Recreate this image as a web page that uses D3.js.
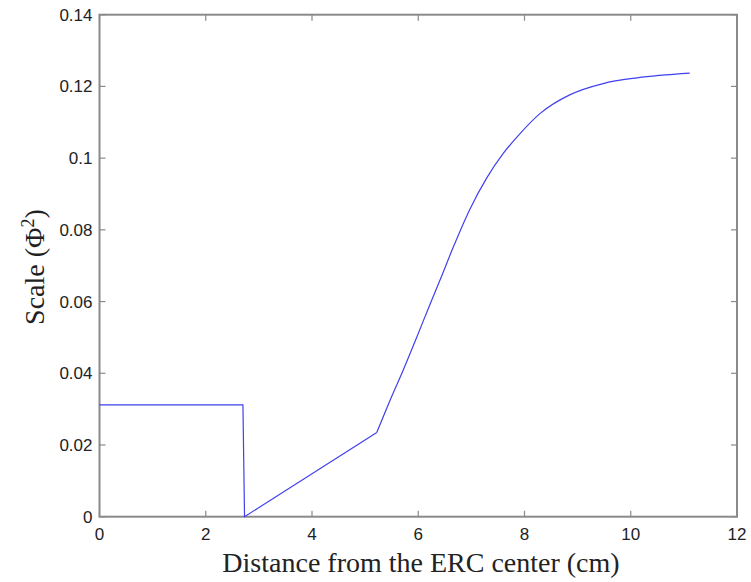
<!DOCTYPE html>
<html><head><meta charset="utf-8">
<script src="https://cdn.jsdelivr.net/npm/d3@7"></script>
<style>body{margin:0;background:#fff}</style>
</head><body>
<svg id="c" width="751" height="582"></svg>
<script>
// piecewise-linear part (flat, drop, ramp)
const linX = [0, 2.70, 2.73, 5.22];
const linY = [0.0312, 0.0312, 0.0, 0.0235];
// smooth rising part
const curX = [5.22, 5.47, 5.72, 5.97, 6.22, 6.41, 6.66, 6.97, 7.29, 7.60, 7.92, 8.29, 8.86, 9.48, 10.12, 11.11];
const curY = [0.0235, 0.0325, 0.0410, 0.0500, 0.0592, 0.0660, 0.0752, 0.0857, 0.0945, 0.1013, 0.1069, 0.1124, 0.1177, 0.1208, 0.1224, 0.1237];
const xTicks = [0, 2, 4, 6, 8, 10, 12];
const yTicks = [0, 0.02, 0.04, 0.06, 0.08, 0.1, 0.12, 0.14];
const xLabel = "Distance from the ERC center (cm)";

const svg = d3.select("#c");
const L = 99.5, R = 737, T = 14.7, B = 516.7;
const x = d3.scaleLinear().domain([0, 12]).range([L, R]);
const y = d3.scaleLinear().domain([0, 0.14]).range([B, T]);
const axisCol = "#8a8a8a", tk = 6;

const g = svg.append("g");
g.append("rect").attr("x", L).attr("y", T).attr("width", R - L).attr("height", B - T)
  .attr("fill", "none").attr("stroke", axisCol).attr("stroke-width", 2);

xTicks.forEach(v => {
  g.append("line").attr("x1", x(v)).attr("x2", x(v)).attr("y1", B).attr("y2", B - tk).attr("stroke", axisCol).attr("stroke-width", 1.2);
  g.append("line").attr("x1", x(v)).attr("x2", x(v)).attr("y1", T).attr("y2", T + tk).attr("stroke", axisCol).attr("stroke-width", 1.2);
  g.append("text").attr("x", x(v)).attr("y", B + 23).attr("text-anchor", "middle")
    .attr("font-family", "Liberation Sans, Arial, sans-serif").attr("font-size", 17).attr("fill", "#222").text(v);
});
yTicks.forEach(v => {
  g.append("line").attr("x1", L).attr("x2", L + tk).attr("y1", y(v)).attr("y2", y(v)).attr("stroke", axisCol).attr("stroke-width", 1.2);
  g.append("line").attr("x1", R).attr("x2", R - tk).attr("y1", y(v)).attr("y2", y(v)).attr("stroke", axisCol).attr("stroke-width", 1.2);
  g.append("text").attr("x", L - 7).attr("y", y(v) + 6).attr("text-anchor", "end")
    .attr("font-family", "Liberation Sans, Arial, sans-serif").attr("font-size", 17).attr("fill", "#222").text(v === 0 ? "0" : String(v));
});

const lin = linX.map((d, i) => [d, linY[i]]);
const cur = curX.map((d, i) => [d, curY[i]]);
const line = d3.line().x(d => x(d[0])).y(d => y(d[1]));
g.append("path").attr("d", line(lin)).attr("fill", "none").attr("stroke", "#4040ee").attr("stroke-width", 1.2);
g.append("path").attr("d", line.curve(d3.curveMonotoneX)(cur)).attr("fill", "none").attr("stroke", "#4040ee").attr("stroke-width", 1.2);

svg.append("text").attr("x", 421).attr("y", 572).attr("text-anchor", "middle")
  .attr("font-family", "Liberation Serif, Times New Roman, serif").attr("font-size", 28).attr("fill", "#222").text(xLabel);
const yl = svg.append("text").attr("transform", "translate(44,267) rotate(-90)").attr("text-anchor", "middle")
  .attr("font-family", "Liberation Serif, Times New Roman, serif").attr("font-size", 28).attr("fill", "#222");
yl.append("tspan").text("Scale (Φ");
yl.append("tspan").attr("baseline-shift", "super").attr("font-size", 18).text("2");
yl.append("tspan").text(")");
</script>
</body></html>
